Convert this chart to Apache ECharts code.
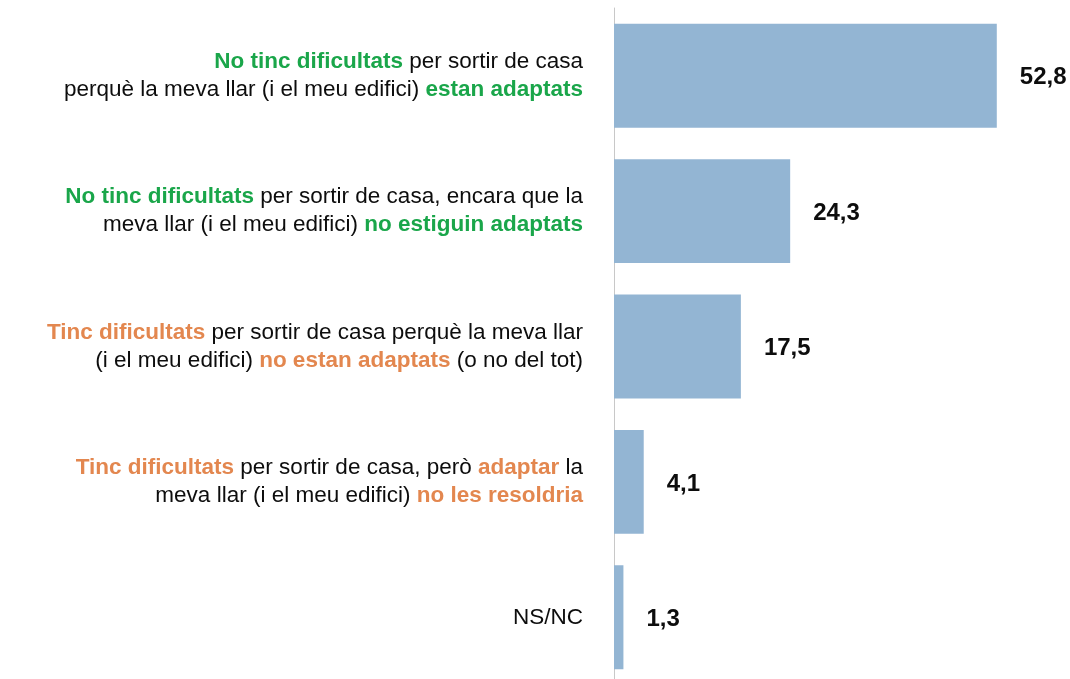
<!DOCTYPE html>
<html>
<head>
  <meta charset="UTF-8">
  <script src="https://cdn.jsdelivr.net/npm/echarts@6/dist/echarts.min.js"></script>
  <style>
    html, body { margin: 0; padding: 0; background: #fff; }
    #main { width: 1070px; height: 679px; }
  </style>
</head>
<body>
  <div id="main"></div>
  <script>
    // categories, top to bottom, written with rich text tags
    var categories = [
      '{g|No tinc dificultats} per sortir de casa\nperquè la meva llar (i el meu edifici) {g|estan adaptats}',
      '{g|No tinc dificultats} per sortir de casa, encara que la\nmeva llar (i el meu edifici) {g|no estiguin adaptats}',
      '{o|Tinc dificultats} per sortir de casa perquè la meva llar\n(i el meu edifici) {o|no estan adaptats} (o no del tot)',
      '{o|Tinc dificultats} per sortir de casa, però {o|adaptar} la\nmeva llar (i el meu edifici) {o|no les resoldria}',
      'NS/NC'
    ];
    var values = [52.8, 24.3, 17.5, 4.1, 1.3];

    var font = "'Liberation Sans', Arial, sans-serif";
    var myChart = echarts.init(document.getElementById('main'));

    myChart.setOption({
      animation: false,
      grid: { left: 614, width: 435, top: 8, height: 677, containLabel: false, outerBoundsMode: 'none' },
      xAxis: {
        type: 'value',
        min: 0,
        max: 60,
        show: false
      },
      yAxis: {
        type: 'category',
        inverse: true,
        data: categories,
        axisLine: { show: true, lineStyle: { color: '#c8c8c8', width: 1 } },
        axisTick: { show: false },
        axisLabel: {
          margin: 31,
          align: 'right',
          fontFamily: font,
          fontSize: 22.5,
          color: '#0d0d0d',
          lineHeight: 28,
          rich: {
            g: { color: '#1aa64a', fontWeight: 'bold', fontSize: 22.5, lineHeight: 28, fontFamily: font },
            o: { color: '#e3874f', fontWeight: 'bold', fontSize: 22.5, lineHeight: 28, fontFamily: font }
          }
        }
      },
      series: [{
        type: 'bar',
        data: values,
        barCategoryGap: '23.3%',
        itemStyle: { color: '#93b5d3' },
        label: {
          show: true,
          position: 'right',
          distance: 23,
          offset: [0, 2],
          fontFamily: font,
          fontSize: 24,
          fontWeight: 'bold',
          color: '#0d0d0d',
          formatter: function (p) {
            return p.value.toFixed(1).replace('.', ',');
          }
        }
      }]
    });
  </script>
</body>
</html>
